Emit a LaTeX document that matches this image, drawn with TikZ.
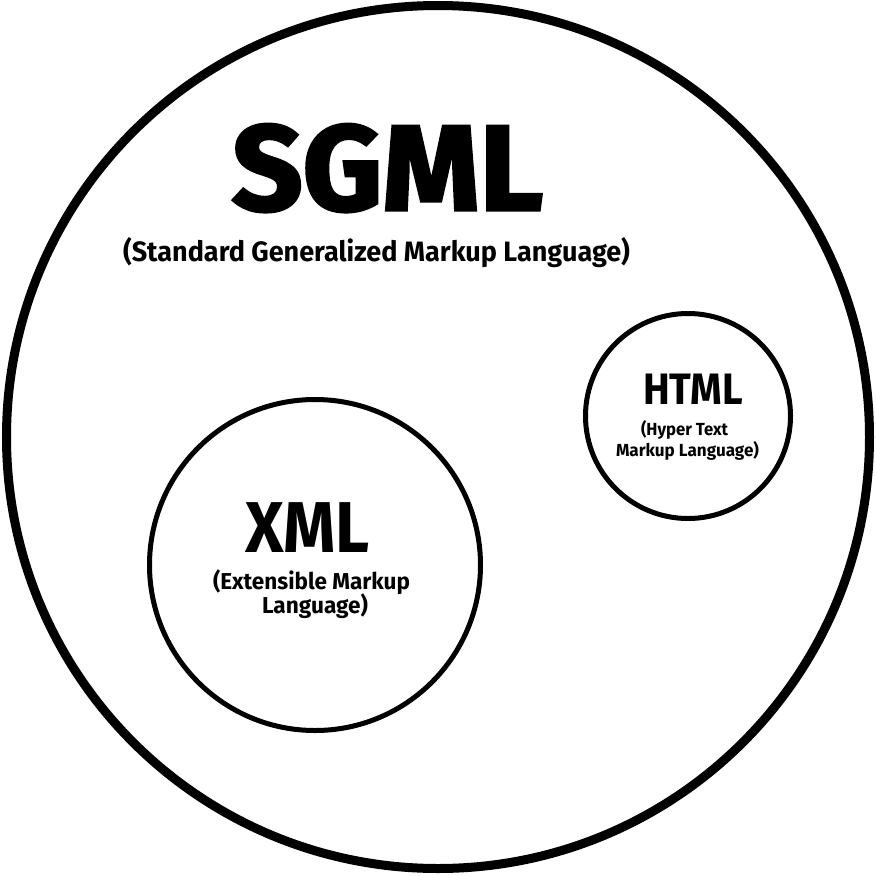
\documentclass[tikz,border=0pt]{standalone}
\usepackage{fontspec}
\setmainfont{Fira Sans}
\newfontfamily\heavyfont{Fira Sans Bold}[FakeBold=2.5]
\newfontfamily\boldfont{Fira Sans Bold}
\newfontfamily\midfont{Fira Sans Bold}
\begin{document}
\begin{tikzpicture}[x=1pt,y=-1pt,
  ring/.style={draw=black,fill=none},
  txt/.style={anchor=base,inner sep=0pt,outer sep=0pt,text=black}]
\useasboundingbox (0,0) rectangle (876,876);
\fill[white] (0,0) rectangle (876,876);
% circles
\node[ring,circle,line width=9pt,minimum size=863pt,inner sep=0pt] (sgmlc) at (438,437) {};
\node[ring,circle,line width=5pt,minimum size=331pt,inner sep=0pt] (xmlc) at (315,565) {};
\node[ring,circle,line width=5pt,minimum size=205pt,inner sep=0pt] (htmlc) at (688,416) {};
% SGML
\node[txt] (sgml) at (387.5,210) {\resizebox{311pt}{\height}{\fontsize{121pt}{121pt}\heavyfont SGML}};
\node[txt] (sgmlsub) at (376.5,261) {\resizebox{507pt}{\height}{\fontsize{28pt}{28pt}\midfont (Standard Generalized Markup Language)}};
% HTML
\node[txt] (html) at (693,404) {\resizebox{100pt}{\height}{\fontsize{44pt}{44pt}\boldfont HTML}};
\node[txt] (htmlsub1) at (684.5,435) {\resizebox{87pt}{\height}{\fontsize{17.5pt}{17.5pt}\midfont (Hyper Text}};
\node[txt] (htmlsub2) at (687.5,456) {\resizebox{143pt}{\height}{\fontsize{17.5pt}{17.5pt}\midfont Markup Language)}};
% XML
\node[txt] (xml) at (307.5,552) {\resizebox{125pt}{\height}{\fontsize{72pt}{72pt}\boldfont XML}};
\node[txt] (xmlsub1) at (311.5,589) {\resizebox{197pt}{\height}{\fontsize{23pt}{23pt}\midfont (Extensible Markup}};
\node[txt] (xmlsub2) at (315,613) {\resizebox{106pt}{\height}{\fontsize{23pt}{23pt}\midfont Language)}};
\end{tikzpicture}
\end{document}
